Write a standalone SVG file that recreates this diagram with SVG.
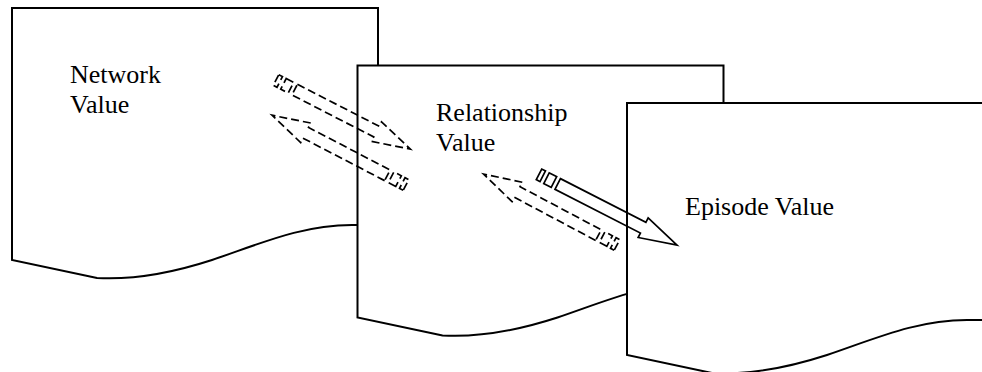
<svg xmlns="http://www.w3.org/2000/svg" width="982" height="372" viewBox="0 0 982 372">
<style>
.doc{fill:#fff;stroke:#000;stroke-width:2;stroke-linejoin:miter}
.lbl{font-family:"Liberation Serif","Times New Roman",serif;font-size:26px;fill:#000}
.arr{fill:none;stroke:#000;stroke-width:1.7;stroke-linejoin:miter}
.dash{stroke-dasharray:8 4}
</style>
<defs>
<path id="docShape" d="M0,0 H366 V217 L340,217 C290,217 250,235 200,252 C160,265 120,272 85,270 L0,252 Z"/>
<g id="arrowD">
<path d="M21,-6 H113 V-11 L151,0 L113,11 V6 H21 Z"/>
<rect x="0" y="-6" width="4.2" height="12"/>
<rect x="8.4" y="-6" width="8.4" height="12"/>
</g>
<g id="arrowS">
<path d="M21,-6 H117 V-11 L155,0 L117,11 V6 H21 Z"/>
<rect x="0" y="-6" width="4.2" height="12"/>
<rect x="8.4" y="-6" width="8.4" height="12"/>
</g>
</defs>
<g id="network-value">
<use href="#docShape" class="doc" transform="translate(12,8)"/>
<text class="lbl" x="70" y="83">Network</text>
<text class="lbl" x="70" y="113">Value</text>
</g>
<g id="relationship-value">
<use href="#docShape" class="doc" transform="translate(357.5,65.5)"/>
<text class="lbl" x="436" y="121">Relationship</text>
<text class="lbl" x="436" y="151">Value</text>
</g>
<g id="episode-value">
<use href="#docShape" class="doc" transform="translate(627,103)"/>
<text class="lbl" x="685" y="215">Episode Value</text>
</g>
<g id="connectors">
<use href="#arrowD" class="arr dash" transform="translate(276,80) rotate(27.2)"/>
<use href="#arrowD" class="arr dash" transform="translate(406,185) rotate(207.5)"/>
<use href="#arrowD" class="arr dash" transform="translate(617,245) rotate(208)"/>
<use href="#arrowS" class="arr" transform="translate(539,174.4) rotate(27.1)"/>
</g>
</svg>
